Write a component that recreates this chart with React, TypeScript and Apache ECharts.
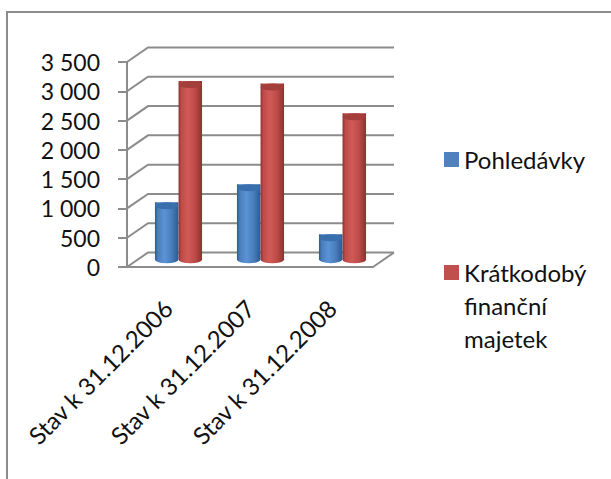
import React, { useEffect, useRef } from "react";
import * as echarts from "echarts";

const categories = ["Stav k 31.12.2006", "Stav k 31.12.2007", "Stav k 31.12.2008"];
const receivables = [920, 1230, 375];
const financialAssets = [2990, 2950, 2440];
const SERIES_A = "Pohledávky";
const SERIES_B = "Krátkodobý finanční majetek";
const yTicks = [0, 500, 1000, 1500, 2000, 2500, 3000, 3500];

const DX = 21;
const DY = -14.5;
const GRID = "#8c8c8c";
const FONT = "Lato, 'Open Sans', sans-serif";

const formatThousands = (v: number) =>
  String(v).replace(/\B(?=(\d{3})+$)/g, " ");

function cylinderItem(side: number, base: string, light: string, dark: string, topColor: string) {
  return (params: any, api: any) => {
    const idx = api.value(0);
    const val = api.value(1);
    const p0 = api.coord([idx, 0]);
    const p1 = api.coord([idx, val]);
    const w = 23.5;
    const cx = p0[0] + DX / 2 + side * 11.8;
    const yb = p0[1] + DY / 2;
    const yt = p1[1] + DY / 2;
    const l = cx - w / 2;
    const r = cx + w / 2;
    const ry = 3.5;
    const rx = w / 2;
    const body = `M${l} ${yt}L${l} ${yb}A${rx} ${ry} 0 0 0 ${r} ${yb}L${r} ${yt}Z`;
    const top = `M${l} ${yt}A${rx} ${ry} 0 1 1 ${r} ${yt}A${rx} ${ry} 0 1 1 ${l} ${yt}Z`;
    return {
      type: "group",
      children: [
        {
          type: "path",
          shape: { pathData: body, x: l, y: yt - ry, width: w, height: yb - yt + 2 * ry, layout: "cover" },
          style: {
            fill: new echarts.graphic.LinearGradient(0, 0, 1, 0, [
              { offset: 0, color: dark },
              { offset: 0.12, color: base },
              { offset: 0.4, color: light },
              { offset: 0.7, color: base },
              { offset: 1, color: dark },
            ]),
          },
        },
        {
          type: "path",
          shape: { pathData: top, x: l, y: yt - ry, width: w, height: 2 * ry, layout: "cover" },
          style: { fill: topColor },
        },
      ],
    };
  };
}

const legendBase = {
  orient: "vertical",
  left: 444,
  padding: 0,
  itemWidth: 15,
  itemHeight: 15,
  selectedMode: false,
  icon: "rect",
  textStyle: { fontFamily: FONT, fontSize: 24, color: "#111", lineHeight: 33 },
};

export default function App() {
  const ref = useRef<HTMLDivElement>(null);
  useEffect(() => {
    const chart = echarts.init(ref.current!, null, { renderer: "svg" });
    chart.setOption({
      animation: false,
      backgroundColor: "#fff",
      color: ["#4f81bd", "#c0504d"],
      grid: { left: 127, top: 62, width: 246, height: 205 },
      graphic: [
        {
          type: "polyline",
          shape: { points: [[7, 479], [7, 12], [611, 12]] },
          style: { stroke: GRID, lineWidth: 2, fill: "none" },
          silent: true,
        },
      ],
      legend: [
        {
          ...legendBase,
          top: 143,
          data: [{ name: SERIES_A, itemStyle: { color: "#4f81bd" } }],
        },
        {
          ...legendBase,
          top: 190,
          formatter: () => "\n\nKrátkodobý\nfinanční\nmajetek",
          data: [{ name: SERIES_B, itemStyle: { color: "#c0504d" } }],
        },
      ],
      xAxis: {
        type: "category",
        data: categories,
        axisLine: { lineStyle: { color: GRID, width: 2 } },
        axisTick: { alignWithLabel: false, length: 8, lineStyle: { color: GRID, width: 2 } },
        axisLabel: { rotate: 45, margin: 37, fontFamily: FONT, fontSize: 24, color: "#111", interval: 0 },
      },
      yAxis: {
        type: "value",
        min: 0,
        max: 3500,
        interval: 500,
        axisLine: { show: true, lineStyle: { color: GRID, width: 2 } },
        axisTick: { show: true, length: 9, lineStyle: { color: GRID, width: 2 } },
        splitLine: { show: false },
        axisLabel: { margin: 27, fontFamily: FONT, fontSize: 23, color: "#111", formatter: formatThousands },
      },
      series: [
        {
          type: "custom",
          name: "walls",
          coordinateSystem: "cartesian2d",
          silent: true,
          z: 1,
          data: yTicks.map((t) => [0, t]),
          renderItem: (params: any, api: any) => {
            const cs = params.coordSys;
            const y = api.coord([0, api.value(1)])[1];
            const pts: number[][] = [[cs.x, y], [cs.x + DX, y + DY], [cs.x + cs.width + DX, y + DY]];
            const children: any[] = [
              { type: "polyline", shape: { points: pts }, style: { stroke: GRID, lineWidth: 2, fill: "none" } },
            ];
            if (api.value(1) === 0) {
              children.push({
                type: "line",
                shape: { x1: cs.x + cs.width, y1: y, x2: cs.x + cs.width + DX, y2: y + DY },
                style: { stroke: GRID, lineWidth: 2 },
              });
            }
            return { type: "group", children };
          },
        },
        {
          type: "custom",
          name: SERIES_A,
          coordinateSystem: "cartesian2d",
          z: 2,
          itemStyle: { color: "#4f81bd" },
          data: receivables.map((v, i) => [i, v]),
          encode: { x: 0, y: 1 },
          renderItem: cylinderItem(-1, "#4a7ebb", "#5a93d6", "#2c5a92", "#3a6fae"),
        },
        {
          type: "custom",
          name: SERIES_B,
          coordinateSystem: "cartesian2d",
          z: 3,
          itemStyle: { color: "#c0504d" },
          data: financialAssets.map((v, i) => [i, v]),
          encode: { x: 0, y: 1 },
          renderItem: cylinderItem(1, "#be4b48", "#d05a57", "#8b3230", "#a33e3b"),
        },
      ],
    });
    return () => chart.dispose();
  }, []);
  return <div ref={ref} style={{ position: "fixed", left: 0, top: 0, width: 611, height: 479 }} />;
}
